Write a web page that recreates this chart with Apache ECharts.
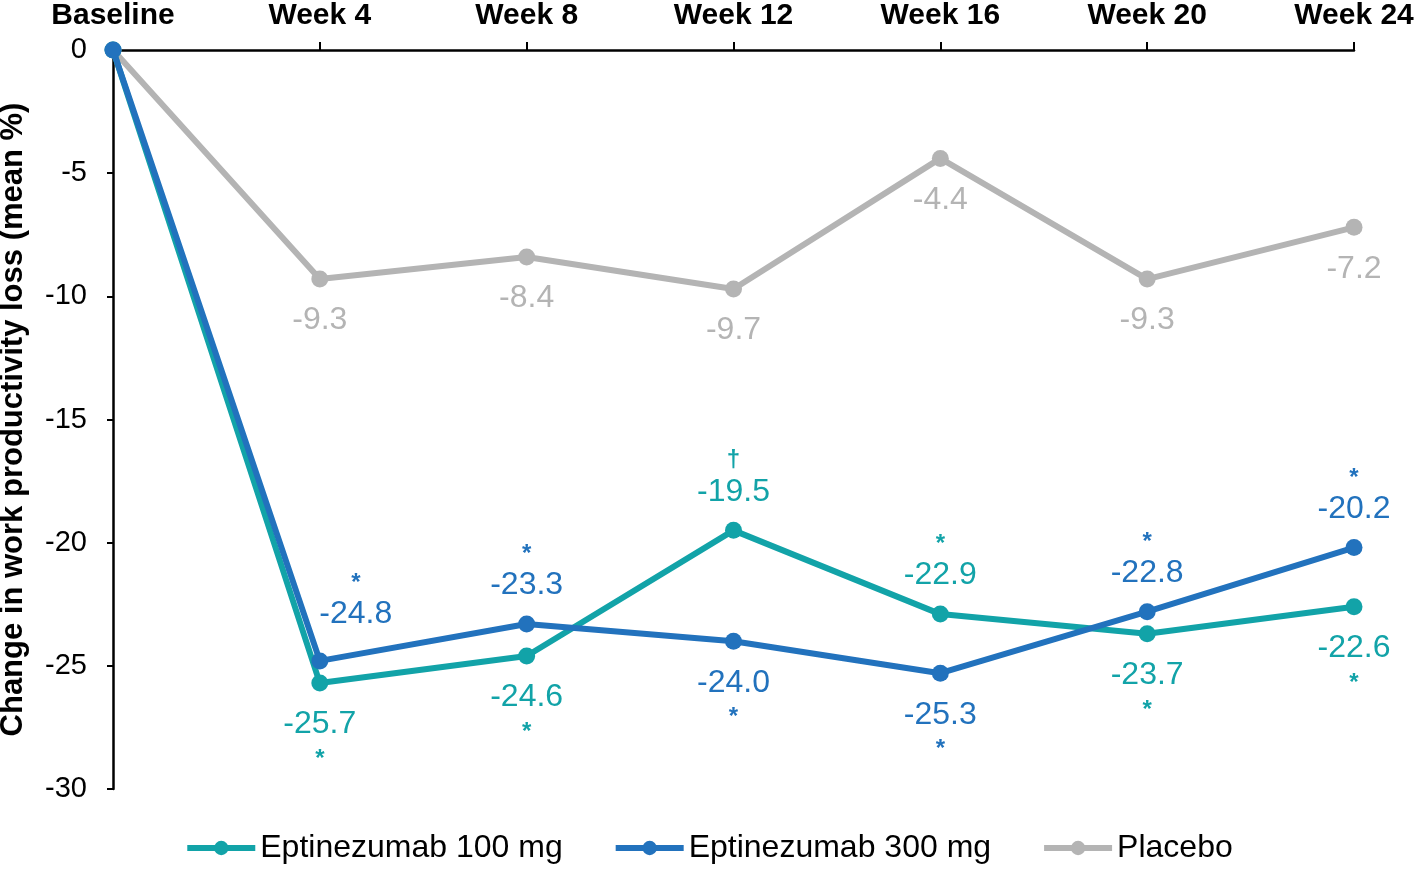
<!DOCTYPE html>
<html><head><meta charset="utf-8">
<script src="https://cdn.jsdelivr.net/npm/echarts@6/dist/echarts.min.js"></script>
<style>html,body{margin:0;padding:0;background:#fff}#c{width:1417px;height:869px}</style>
</head><body><div id="c"></div>
<script>
const categories = ['Baseline','Week 4','Week 8','Week 12','Week 16','Week 20','Week 24'];
const yTicks = [0,-5,-10,-15,-20,-25,-30];
const seriesNames = ['Eptinezumab 100 mg','Eptinezumab 300 mg','Placebo'];
const epti100 = [0,-25.7,-24.6,-19.5,-22.9,-23.7,-22.6];
const epti300 = [0,-24.8,-23.3,-24.0,-25.3,-22.8,-20.2];
const placebo = [0,-9.3,-8.4,-9.7,-4.4,-9.3,-7.2];
const marks100 = ['','*','*','\u2020','*','*','*'];
const marks300 = ['','*','*','*','*','*','*'];
const marksPlacebo = ['','','','','','',''];
const side100 = ['','bottom','bottom','top','top','bottom','bottom'];
const side300 = ['','top','top','bottom','bottom','top','top'];
const sidePlacebo = ['','bottom','bottom','bottom','bottom','bottom','bottom'];

const colors = ['#12a3a8','#2272bd','#b4b4b4'];
const FONT = '"Liberation Sans", Arial, sans-serif';

function buildData(vals, marks, sides, color) {
  return vals.map((v, i) => {
    if (i === 0) return { value: v, label: { show: false } };
    const m = marks[i];
    const top = sides[i] === 'top';
    const txt = v.toFixed(1);
    let fmt;
    if (!m) fmt = '{v|' + txt + '}';
    else fmt = top ? '{s|' + m + '}\n{v|' + txt + '}' : '{v|' + txt + '}\n{sb|' + m + '}';
    return { value: v, label: {
      show: true,
      position: top ? 'top' : 'bottom',
      distance: top ? 12 : 15,
      formatter: fmt,
      rich: {
        v: { color: color, fontSize: 32, fontFamily: FONT, lineHeight: 36 },
        s: { color: color, fontSize: 24, fontFamily: FONT, lineHeight: 26, fontWeight: 'bold' },
        sb: { color: color, fontSize: 24, fontFamily: FONT, lineHeight: 34, fontWeight: 'bold' }
      }
    } };
  });
}

function mkSeries(name, vals, marks, sides, color, z, shifts) {
  return {
    name: name, type: 'line', data: buildData(vals, marks, sides, color),
    symbol: 'circle', symbolSize: 17, z: z,
    lineStyle: { width: 6, color: color },
    itemStyle: { color: color },
    emphasis: { disabled: true },
    labelLayout: function (p) {
      const s = shifts && shifts[p.dataIndex];
      return s ? { dx: s[0], dy: s[1], hideOverlap: false } : { hideOverlap: false };
    }
  };
}

const chart = echarts.init(document.getElementById('c'), null, { renderer: 'canvas' });
chart.setOption({
  animation: false,
  grid: { left: 113, right: 63, top: 50, bottom: 80, containLabel: false, outerBoundsMode: 'none' },
  legend: {
    bottom: 0, left: 'center',
    itemWidth: 68, itemHeight: 18, itemGap: 50,
    lineStyle: { width: 6 },
    textStyle: { fontSize: 32, fontFamily: FONT, color: '#000' },
    data: seriesNames
  },
  xAxis: {
    type: 'category', position: 'top', boundaryGap: false, data: categories,
    axisLine: { lineStyle: { color: '#000', width: 2.5 } },
    axisTick: { show: true, inside: false, length: 8, lineStyle: { color: '#000', width: 2 } },
    axisLabel: { fontSize: 30, fontWeight: 'bold', fontFamily: FONT, color: '#000', margin: 19 },
    splitLine: { show: false }
  },
  yAxis: {
    type: 'value', min: -30, max: 0, interval: 5,
    name: 'Change in work productivity loss (mean %)',
    nameLocation: 'middle', nameGap: 84, nameRotate: 90,
    nameTextStyle: { fontSize: 31, fontWeight: 'bold', fontFamily: FONT, color: '#000' },
    axisLine: { show: true, lineStyle: { color: '#000', width: 2.5 } },
    axisTick: { show: true, length: 6, lineStyle: { color: '#000', width: 2 } },
    axisLabel: { fontSize: 29, fontFamily: FONT, color: '#000', margin: 26,
      formatter: v => (yTicks.indexOf(v) >= 0 ? String(v) : '') },
    splitLine: { show: false }
  },
  series: [
    mkSeries(seriesNames[2], placebo, marksPlacebo, sidePlacebo, colors[2], 1),
    mkSeries(seriesNames[0], epti100, marks100, side100, colors[0], 2),
    mkSeries(seriesNames[1], epti300, marks300, side300, colors[1], 3, { 1: [36, -8] })
  ]
});
</script></body></html>
